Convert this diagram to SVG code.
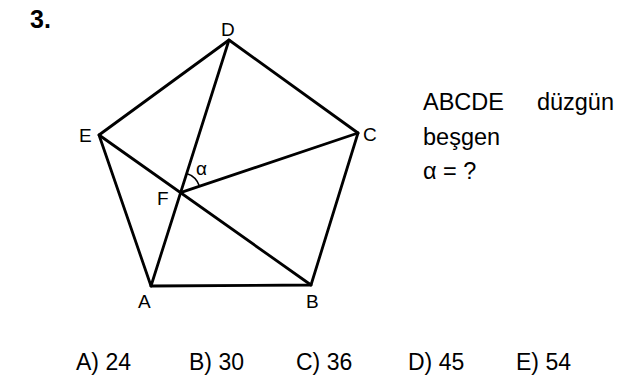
<svg xmlns="http://www.w3.org/2000/svg" width="617" height="382" viewBox="0 0 617 382">
<style>
.edge{stroke:#000;stroke-width:2.8;fill:none;stroke-linecap:round;stroke-linejoin:round}
.arc{stroke:#000;stroke-width:1.6;fill:none}
.lbl{font-family:"Liberation Sans",Arial,sans-serif;font-size:19px;fill:#000}
.txt{font-family:"Liberation Sans",Arial,sans-serif;font-size:23.5px;fill:#000}
.ans{font-family:"Liberation Sans",Arial,sans-serif;font-size:23px;fill:#000}
</style>
<rect width="617" height="382" fill="#fff"/>
<text x="30" y="28" font-family="Liberation Sans,Arial,sans-serif" font-size="25" font-weight="bold">3.</text>
<g id="connectors">
<path class="edge" d="M151 286 L311 285 L358 133 L229 40 L99 135 Z"/>
<line class="edge" x1="151" y1="286" x2="229" y2="40"/>
<line class="edge" x1="99" y1="135" x2="311" y2="285"/>
<line class="edge" x1="180.5" y1="192.7" x2="358" y2="133"/>
<path class="arc" d="M186.6 173.6 A20 20 0 0 1 199.5 186.3"/>
</g>
<g id="node-A"><text class="lbl" x="138" y="308">A</text></g>
<g id="node-B"><text class="lbl" x="306" y="308">B</text></g>
<g id="node-C"><text class="lbl" x="363" y="141">C</text></g>
<g id="node-D"><text class="lbl" x="221" y="36">D</text></g>
<g id="node-E"><text class="lbl" x="79" y="142">E</text></g>
<g id="node-F"><text class="lbl" x="157" y="205">F</text></g>
<g id="angle-label"><text class="lbl" x="196" y="175">α</text></g>
<g id="question">
<text class="txt" x="423" y="110">ABCDE</text>
<text class="txt" x="614" y="110" text-anchor="end">düzgün</text>
<text class="txt" x="423" y="145">beşgen</text>
<text class="txt" x="423" y="179">α = ?</text>
</g>
<g id="answers">
<text class="ans" x="76" y="370">A) 24</text>
<text class="ans" x="189" y="370">B) 30</text>
<text class="ans" x="296" y="370">C) 36</text>
<text class="ans" x="408" y="370">D) 45</text>
<text class="ans" x="516" y="370">E) 54</text>
</g>
</svg>
